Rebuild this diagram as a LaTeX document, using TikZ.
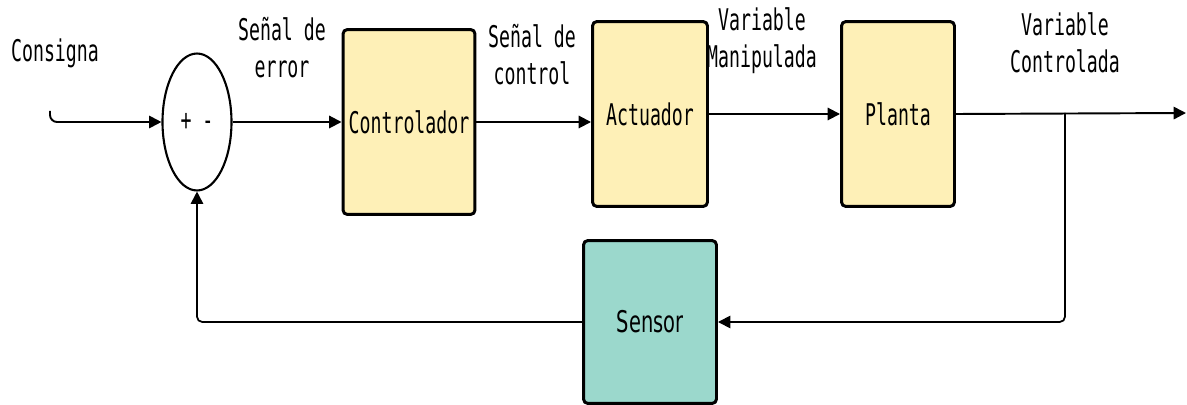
\documentclass[tikz,border=0pt]{standalone}
\usepackage{fontspec}
\usetikzlibrary{shapes.geometric,arrows.meta}
\newfontfamily\monofnt[FakeStretch=0.61]{DejaVu Sans Mono}
\newfontfamily\sansfnt[FakeStretch=0.65]{DejaVu Sans}
\definecolor{boxyellow}{RGB}{254,240,183}
\definecolor{sensorteal}{RGB}{155,216,204}

\begin{document}
\begin{tikzpicture}[x=0.02cm,y=-0.02cm,>={Triangle[length=7pt,width=7pt]}]
\tikzstyle{every node}=[font=\monofnt\fontsize{17}{21}\selectfont,align=center]
\tikzstyle{block}=[draw,line width=1.7pt,rounded corners=2.5pt,fill=boxyellow,inner sep=1pt]
\tikzstyle{wire}=[line width=1.1pt]
\tikzstyle{back}=[line width=1pt,rounded corners=3pt]

\useasboundingbox (0,0) rectangle (1187,405);

% bloques
\node[draw,ellipse,line width=1.2pt,minimum width=1.38cm,minimum height=2.74cm] (sum) at (197,122) {+ -};
\node[block,minimum width=2.64cm,minimum height=3.7cm] (ctrl) at (409,122) {Controlador};
\node[block,minimum width=2.3cm,minimum height=3.7cm] (act) at (650,114) {Actuador};
\node[block,minimum width=2.26cm,minimum height=3.7cm] (plant) at (898,114) {Planta};
\node[block,fill=sensorteal,minimum width=2.66cm,minimum height=3.26cm,font=\sansfnt\fontsize{17}{21}\selectfont] (sensor) at (650,322) {Sensor};

% etiquetas
\node (ref) at (55,53) {Consigna};
\node (err) at (282,48) {Señal de\\error};
\node (u) at (532,55) {Señal de\\control};
\node (m) at (762,41) {Variable\\Manipulada};
\node (y) at (1065,43) {Variable\\Controlada};

% conexiones
\coordinate (in) at (50,111);
\coordinate (out) at (1186,113);
\coordinate (branch) at (1065,113);
\draw[wire,->,rounded corners=4pt] (in) |- (sum.west);
\draw[wire,->] (sum.east) -- (ctrl.west);
\draw[wire,->] (ctrl.east) -- (ctrl.east -| act.west);
\draw[wire,->] (act.east |- plant.west) -- (plant.west);
\draw[wire,->] (plant.east) -- (out);
\draw[back,->] (branch) |- (sensor.east);
\draw[back,->] (sensor.west) -| (sum.south);
\end{tikzpicture}
\end{document}
